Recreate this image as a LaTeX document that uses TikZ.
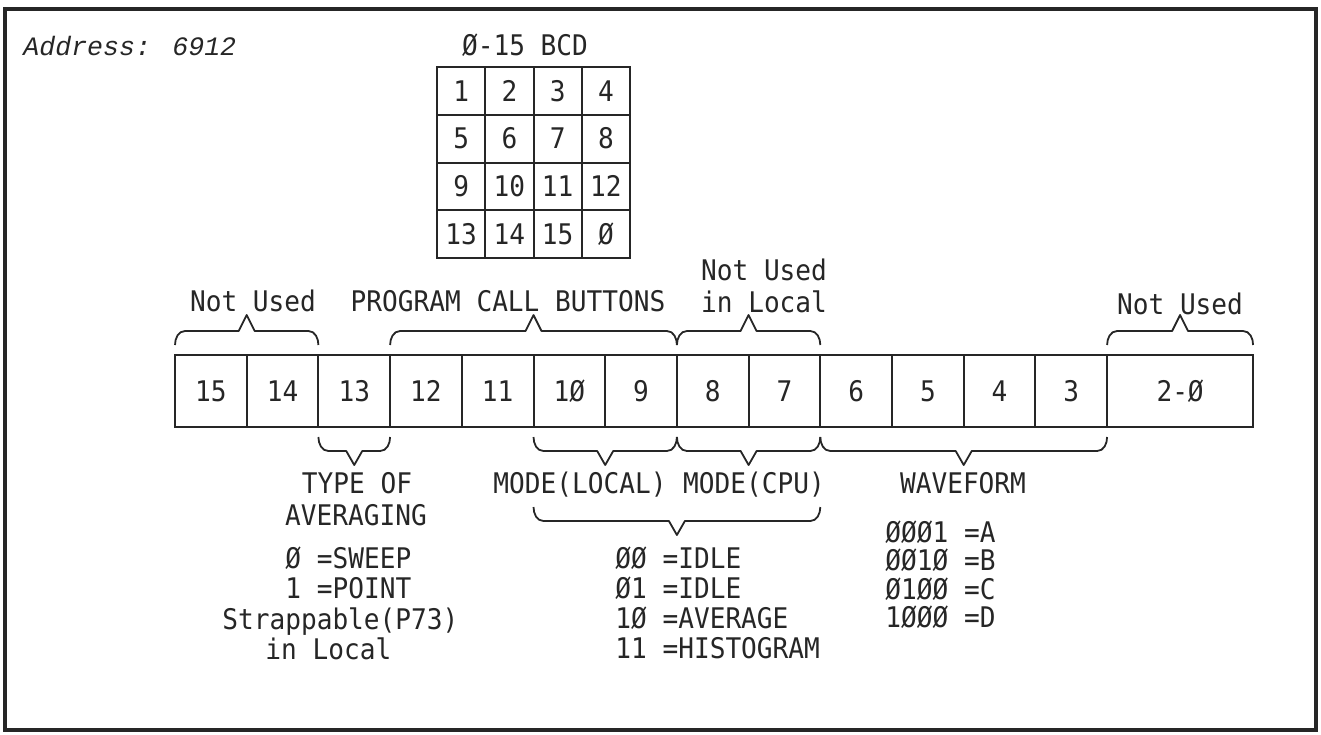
\documentclass[tikz,border=0pt]{standalone}
\usepackage{fontspec}
\setmonofont{DejaVu Sans Mono}[FakeStretch=0.92]
\newfontfamily\addrfont{Liberation Mono}
\usetikzlibrary{positioning,calc}
\definecolor{ink}{HTML}{262626}
\newcommand{\regfont}{\ttfamily\fontsize{14.2pt}{17pt}\selectfont}
\newcommand{\bracetop}[2]{%
  \draw[brace] let \p1=(#1), \p2=(#2), \p3=($(#1)!.5!(#2)$) in
    (\x1,\y1+5pt) to[out=90,in=180] (\x1+5pt,\y1+12pt) -- (\x3-4pt,\y1+12pt)
    -- (\x3,\y1+20pt) -- (\x3+4pt,\y1+12pt) -- (\x2-5pt,\y1+12pt)
    to[out=0,in=90] (\x2,\y1+5pt);}
\newcommand{\bracebot}[2]{%
  \draw[brace] let \p1=(#1), \p2=(#2), \p3=($(#1)!.5!(#2)$) in
    (\x1,\y1-5pt) to[out=-90,in=180] (\x1+5pt,\y1-12pt) -- (\x3-4pt,\y1-12pt)
    -- (\x3,\y1-19pt) -- (\x3+4pt,\y1-12pt) -- (\x2-5pt,\y1-12pt)
    to[out=0,in=-90] (\x2,\y1-5pt);}

\begin{document}
\begin{tikzpicture}[x=0.5pt, y=-0.5pt,
    every node/.style={font=\regfont, text=ink},
    bit/.style={draw=ink, line width=1pt, minimum width=35.85pt, minimum height=36pt, inner sep=0pt, outer sep=0pt},
    cell/.style={draw=ink, line width=1pt, minimum width=24.125pt, minimum height=23.875pt, inner sep=0pt, outer sep=0pt},
    brace/.style={draw=ink, line width=0.9pt, line join=round},
    lbl/.style={inner sep=0pt, anchor=base}]
  \useasboundingbox (0,0) rectangle (1321,734);
  \draw[ink, line width=1.6pt] (5,9) rectangle (1316,730);
  \node[lbl, anchor=base west, font=\addrfont\itshape\fontsize{13.3pt}{16pt}\selectfont] (addr) at (23,55) {Address: 6912};
  % BCD switch
  \node[lbl] (bcd) at (525,55) {Ø-15 BCD};
  \foreach \t [count=\k from 0] in {1,2,3,4,5,6,7,8,9,10,11,12,13,14,15,Ø}{
    \pgfmathtruncatemacro{\r}{\k/4}
    \pgfmathtruncatemacro{\c}{mod(\k,4)}
    \node[cell] (g\k) at ({437+48.25*(\c+0.5)},{67+47.75*(\r+0.5)}) {\t};
  }
  % register bits
  \foreach \b/\t [count=\i from 0] in {15/15,14/14,13/13,12/12,11/11,10/1Ø,9/9,8/8,7/7,6/6,5/5,4/4,3/3}
    \node[bit] (b\b) at ({175+71.7*(\i+0.5)},391) {\t};
  \node[bit, minimum width=73pt, right=0pt of b3] (b20) {2-Ø};
  \bracetop{b15.north west}{b14.north east}
  \bracetop{b12.north west}{b9.north east}
  \bracetop{b8.north west}{b7.north east}
  \bracetop{b20.north west}{b20.north east}
  \bracebot{b13.south west}{b13.south east}
  \bracebot{b10.south west}{b9.south east}
  \bracebot{b8.south west}{b7.south east}
  \bracebot{b6.south west}{b3.south east}
  \coordinate (codeL) at ([yshift=-35pt]b10.south west);
  \coordinate (codeR) at ([yshift=-35pt]b7.south east);
  \bracebot{codeL}{codeR}
  \node[lbl] (nu1) at (253,311) {Not Used};
  \node[lbl] (pcb) at (508,311) {PROGRAM CALL BUTTONS};
  \node[lbl] (nul1) at (764,280) {Not Used};
  \node[lbl] (nul2) at (764,312) {in Local};
  \node[lbl] (nu2) at (1180,314) {Not Used};
  \node[lbl] (avg1) at (357,493) {TYPE OF};
  \node[lbl] (avg2) at (356,525) {AVERAGING};
  \node[lbl] (mloc) at (580,493) {MODE(LOCAL)};
  \node[lbl] (mcpu) at (754,493) {MODE(CPU)};
  \node[lbl] (wave) at (963,493) {WAVEFORM};
  % value tables
  \foreach \t/\x/\y [count=\i] in {Ø =SWEEP/285/568, 1 =POINT/285/598, Strappable(P73)/222/629, in Local/265/659}
    \node[lbl, anchor=base west] (avgv\i) at (\x,\y) {\t};
  \foreach \t [count=\i from 0] in {ØØ =IDLE, Ø1 =IDLE, 1Ø =AVERAGE, 11 =HISTOGRAM}
    \node[lbl, anchor=base west] (modev\i) at (615,{568+30.3*\i}) {\t};
  \foreach \t [count=\i from 0] in {ØØØ1 =A, ØØ1Ø =B, Ø1ØØ =C, 1ØØØ =D}
    \node[lbl, anchor=base west] (wavev\i) at (885,{542+28.5*\i}) {\t};
\end{tikzpicture}
\end{document}
